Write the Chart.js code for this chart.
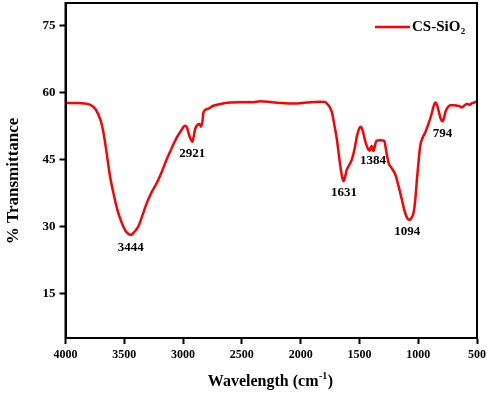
<!DOCTYPE html>
<html>
<head>
<meta charset="utf-8">
<script src="https://cdn.jsdelivr.net/npm/chart.js@4"></script>
<style>
html,body{margin:0;padding:0;background:#fff;}
#wrap{position:relative;width:487px;height:396px;}
</style>
</head>
<body>
<div id="wrap"><canvas id="c" width="487" height="396"></canvas></div>
<script>
// Data
const wavenumber = [4000,3900,3840,3800,3770,3745,3720,3700,3680,3660,3640,3620,3593,3560,3522,3490,3465,3451,3435,3420,3400,3380,3345,3309,3270,3224,3180,3139,3095,3053,3020,2983,2965,2955,2935,2921,2910,2898,2875,2861,2848,2835,2827,2790,2742,2680,2600,2500,2400,2345,2250,2150,2063,1950,1834,1790,1777,1755,1734,1712,1692,1675,1658,1645,1635,1620,1607,1585,1564,1540,1521,1500,1487,1470,1451,1430,1414,1404,1394,1386,1380,1368,1357,1340,1323,1305,1289,1270,1252,1225,1195,1175,1153,1135,1119,1100,1090,1082,1070,1060,1040,1025,1011,997,983,960,940,915,891,870,855,840,827,810,793,780,770,750,727,700,670,650,628,610,585,560,543,525,509,500];
const transmittance = [57.6,57.6,57.5,57.3,56.9,56.2,55,53.6,51.4,48.2,44.5,41,37.5,33.8,30.8,29,28.3,28.1,28.2,28.6,29.2,30,32.5,35.2,37.5,39.7,42.3,45,47.6,49.9,51.3,52.5,52,51,49.5,48.9,50,51.7,52.8,52.9,52.3,53.5,55.5,56.3,57,57.4,57.7,57.8,57.8,58,57.8,57.6,57.5,57.7,57.9,57.8,57.5,56.8,55.5,52.5,49.5,46,42.7,40.8,40.1,41.3,42.7,43.8,45,47.5,50.2,52,52.3,51.2,49.1,47.5,46.9,47.6,48,47,46.9,48,49.1,49.2,49.3,49.2,49.1,46.5,44.2,43,41.6,39.8,37.5,35.5,33.7,32.2,31.7,31.5,31.5,31.8,33,36,40.5,44.5,48,50,51,52.8,54.7,56.8,57.75,57.2,55.9,54.2,53.5,54.3,55.5,56.6,57.1,57.1,57,56.9,56.6,57,57.4,57.2,57.6,57.7,57.9,58];
const peakLabels = ["3444","2921","1631","1384","1094","794"];
const peakX = [3444,2921,1631,1384,1094,794];
const peakLabelY = [25.2,46.3,37.6,44.8,28.9,50.8];
const yTicks = [15,30,45,60,75];
const xTicks = [4000,3500,3000,2500,2000,1500,1000,500];
const seriesName = "CS-SiO";
const seriesSub = "2";

const SERIF = '"Liberation Serif","Times New Roman",serif';

const frame = {
  id:'frame',
  afterDraw(chart){
    const {ctx, chartArea:a, scales} = chart;
    ctx.save();
    ctx.strokeStyle = '#000';
    ctx.lineWidth = 2;
    ctx.strokeRect(a.left, a.top, a.right - a.left, a.bottom - a.top);
    // peak labels
    ctx.fillStyle = '#000';
    ctx.font = 'bold 13px ' + SERIF;
    ctx.textAlign = 'center';
    ctx.textBaseline = 'middle';
    peakLabels.forEach((t,i)=>{
      ctx.fillText(t, scales.x.getPixelForValue(peakX[i]), scales.y.getPixelForValue(peakLabelY[i]));
    });
    // legend
    ctx.strokeStyle = '#ff0000';
    ctx.lineWidth = 2.5;
    ctx.beginPath();
    ctx.moveTo(375, 27); ctx.lineTo(410, 27);
    ctx.stroke();
    ctx.textAlign = 'left';
    ctx.font = 'bold 15px ' + SERIF;
    ctx.fillText(seriesName, 412, 27);
    const w1 = ctx.measureText(seriesName).width;
    ctx.font = 'bold 9px ' + SERIF;
    ctx.fillText(seriesSub, 412 + w1 + 0.5, 32);
    // x title with superscript
    const p1 = 'Wavelength (cm', p2 = '-1', p3 = ')';
    ctx.font = 'bold 16px ' + SERIF; const a1 = ctx.measureText(p1).width;
    ctx.font = 'bold 10px ' + SERIF; const a2 = ctx.measureText(p2).width;
    ctx.font = 'bold 16px ' + SERIF; const a3 = ctx.measureText(p3).width;
    let x0 = 270 - (a1 + a2 + a3)/2;
    const yb = 382;
    ctx.font = 'bold 16px ' + SERIF;
    ctx.fillText(p1, x0, yb);
    ctx.font = 'bold 10px ' + SERIF;
    ctx.fillText(p2, x0 + a1 + 0.5, yb - 6);
    ctx.font = 'bold 16px ' + SERIF;
    ctx.fillText(p3, x0 + a1 + a2 + 1, yb);
    // y title
    ctx.translate(14, 181);
    ctx.rotate(-Math.PI/2);
    ctx.textAlign = 'center';
    ctx.font = 'bold 17px ' + SERIF;
    ctx.fillText('% Transmittance', 0, 0);
    ctx.restore();
  }
};

new Chart(document.getElementById('c'), {
  type:'line',
  data:{
    datasets:[{
      label: seriesName + seriesSub,
      data: wavenumber.map((w,i)=>({x:w, y:transmittance[i]})),
      borderColor:'#ff0000',
      borderWidth:2.5,
      pointRadius:0,
      cubicInterpolationMode:'monotone',
      fill:false
    }]
  },
  options:{
    responsive:false,
    animation:false,
    layout:{padding:{left:0,right:10,top:3,bottom:0}},
    plugins:{legend:{display:false},tooltip:{enabled:false}},
    scales:{
      x:{
        type:'linear', reverse:true, min:500, max:4000,
        afterBuildTicks(s){ s.ticks = xTicks.map(v=>({value:v})); },
        afterFit(s){ s.height = 58; s.paddingLeft = 0; s.paddingRight = 0; },
        grid:{drawOnChartArea:false, tickLength:6, tickWidth:2, tickColor:'#000'},
        border:{display:true, color:'#000', width:2},
        ticks:{color:'#000', padding:4, maxRotation:0, callback:v=>String(v), font:{family:SERIF, size:12, weight:'bold'}}
      },
      y:{
        type:'linear', min:5, max:80,
        afterBuildTicks(s){ s.ticks = yTicks.map(v=>({value:v})); },
        afterFit(s){ s.width = 65.5; s.paddingTop = 0; s.paddingBottom = 0; },
        grid:{drawOnChartArea:false, tickLength:6, tickWidth:2, tickColor:'#000'},
        border:{display:true, color:'#000', width:2},
        ticks:{color:'#000', padding:4, callback:v=>String(v), font:{family:SERIF, size:13, weight:'bold'}}
      }
    }
  },
  plugins:[frame]
});
</script>
</body>
</html>
